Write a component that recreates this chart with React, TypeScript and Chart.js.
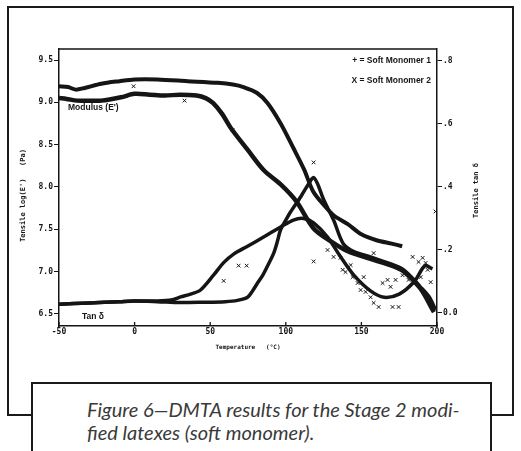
import React, { useEffect, useRef } from "react";
import { Chart, registerables } from "chart.js";
Chart.register(...registerables);

const INK = "#151515";
const MONO = '"DejaVu Sans Mono", "Liberation Mono", monospace';
const SANS = '"Liberation Sans", Arial, sans-serif';

// axes
const xTicks = [-50, 0, 50, 100, 150, 200];
const leftTicks = [6.5, 7.0, 7.5, 8.0, 8.5, 9.0, 9.5];
const rightTicks = [0, 0.2, 0.4, 0.6, 0.8];
const rightTickLabels = ["0.0", ".2", ".4", ".6", ".8"];

// Modulus E' (log Pa) - Soft Monomer 1 (+)
const mod1T = [-50, -44, -39, -33, -22, -10, 0, 15, 35, 55, 65, 72, 81, 88, 96.6, 105, 112, 118, 125, 132, 141, 150, 160, 170, 177];
const mod1V = [9.19, 9.18, 9.15, 9.17, 9.22, 9.25, 9.27, 9.27, 9.25, 9.23, 9.21, 9.18, 9.11, 8.99, 8.75, 8.46, 8.21, 7.95, 7.79, 7.66, 7.56, 7.44, 7.37, 7.33, 7.3];

// Modulus E' (log Pa) - Soft Monomer 2 (X)
const mod2T = [-50, -45, -38, -30, -22, -9, 0, 10, 20, 30, 41, 47, 52, 58, 63.5, 74.7, 85.3, 96.6, 107, 118.4, 129.6, 141, 156, 170, 178, 189, 198];
const mod2V = [9.05, 9.04, 9.02, 9.02, 9.02, 9.06, 9.1, 9.09, 9.08, 9.09, 9.08, 9.05, 8.99, 8.86, 8.7, 8.44, 8.2, 8.03, 7.83, 7.51, 7.36, 7.24, 7.15, 7.07, 7.0, 6.8, 6.52];

// tan delta - Soft Monomer 1 (+)
const tan1T = [-50, -30, -10, 0, 15, 30, 45, 60, 68, 74.7, 78, 81.3, 85, 88, 92, 94.6, 96.6, 100, 103, 110, 116.4, 118.4, 121, 125, 131.6, 138, 145, 156, 167, 178, 189, 195, 199];
const tan1Y = [0.028, 0.032, 0.036, 0.038, 0.036, 0.033, 0.034, 0.036, 0.04, 0.05, 0.07, 0.095, 0.122, 0.15, 0.19, 0.23, 0.265, 0.295, 0.32, 0.37, 0.42, 0.43, 0.41, 0.36, 0.295, 0.22, 0.195, 0.178, 0.16, 0.137, 0.083, 0.05, 0.01];

// tan delta - Soft Monomer 2 (X)
const tan2T = [-50, -30, -10, 0, 15, 25, 30.4, 37, 43.6, 52.2, 58.9, 65.5, 74.7, 85.3, 96.6, 105, 111.8, 118.4, 127.6, 136, 145, 156, 165, 175, 185, 192, 197];
const tan2Y = [0.028, 0.032, 0.036, 0.038, 0.038, 0.042, 0.051, 0.06, 0.073, 0.12, 0.16, 0.187, 0.212, 0.241, 0.273, 0.295, 0.3, 0.286, 0.241, 0.18, 0.12, 0.07, 0.05, 0.06, 0.1, 0.15, 0.14];

// scattered X points of tan delta (Soft Monomer 2) above 125 C
const tan2ScatT = [127.6, 131.6, 136.2, 137.6, 139.5, 142.9, 144.2, 147.5, 149.5, 151.5, 152.8, 156.1, 158.1, 158.1, 161.4, 164.0, 167.3, 169.3, 170.6, 172.6, 174.6, 177.2, 181.2, 183.9, 185.8, 187.8, 189.2, 190.5, 192.5, 193.8, 195.8];
const tan2ScatY = [0.2, 0.178, 0.175, 0.137, 0.13, 0.152, 0.114, 0.095, 0.073, 0.114, 0.067, 0.05, 0.032, 0.19, 0.019, 0.095, 0.105, 0.083, 0.019, 0.105, 0.019, 0.12, 0.105, 0.178, 0.095, 0.162, 0.114, 0.175, 0.159, 0.137, 0.098];

// stray X points (left axis)
const strayT = [-0.7, 33, 64.8, 118.4, 199, 58.9, 68.8, 74.1, 118.4];
const strayV = [9.19, 9.02, 8.67, 8.29, 7.71, 6.89, 7.07, 7.07, 7.12];

const xTitle = "Temperature   (\u00B0C)";
const leftTitle = "Tensile log(E')   (Pa)";
const rightTitle = "Tensile tan \u03B4";
const legend1 = "+ = Soft Monomer 1";
const legend2 = "X = Soft Monomer 2";
const modLabel = "Modulus (E')";
const tanLabel = "Tan \u03B4";
const captionLines = ["Figure 6\u2014DMTA results for the Stage 2 modi-", "fied latexes (soft monomer)."];

const zip = (xs: number[], ys: number[]) => xs.map((x, i) => ({ x, y: ys[i] }));

const CANVAS_W = 521;
const CANVAS_H = 380;

const decor = {
  id: "decor",
  afterDraw(chart: any) {
    const { ctx, chartArea: a, scales } = chart;
    ctx.save();
    ctx.strokeStyle = INK;
    ctx.lineWidth = 1.3;
    ctx.beginPath();
    ctx.moveTo(a.left, a.top);
    ctx.lineTo(a.right, a.top);
    xTicks.forEach((v) => {
      const px = scales.x.getPixelForValue(v);
      ctx.moveTo(px, a.bottom);
      ctx.lineTo(px, a.bottom - 4);
    });
    ctx.stroke();

    ctx.fillStyle = INK;
    ctx.textBaseline = "middle";
    ctx.font = `bold 6px ${MONO}`;
    ctx.textAlign = "center";
    ctx.fillText(xTitle, (a.left + a.right) / 2, a.bottom + 21);

    ctx.font = `bold 7px ${MONO}`;
    ctx.save();
    ctx.translate(a.left - 36, (a.top + a.bottom) / 2 + 8);
    ctx.rotate(-Math.PI / 2);
    ctx.fillText(leftTitle, 0, 0);
    ctx.restore();

    ctx.save();
    ctx.translate(a.right + 39, (a.top + a.bottom) / 2 + 3);
    ctx.rotate(-Math.PI / 2);
    ctx.fillText(rightTitle, 0, 0);
    ctx.restore();

    ctx.font = `bold 8.5px ${SANS}`;
    ctx.textAlign = "right";
    ctx.fillText(legend1, a.right - 6, a.top + 12);
    ctx.fillText(legend2, a.right - 6, a.top + 32);
    ctx.textAlign = "left";
    ctx.fillText(modLabel, a.left + 9, a.top + 59);
    ctx.fillText(tanLabel, a.left + 23, a.bottom - 9);
    ctx.restore();
  },
};

export default function App() {
  const ref = useRef<HTMLCanvasElement | null>(null);
  useEffect(() => {
    if (!ref.current) return;
    const lineDs = (label: string, data: any[], axis: string, w: number) => ({
      type: "line" as const,
      label,
      data,
      yAxisID: axis,
      borderColor: INK,
      backgroundColor: INK,
      borderWidth: w,
      pointRadius: 0,
      tension: 0.3,
      fill: false,
    });
    const xDs = (label: string, data: any[], axis: string) => ({
      type: "scatter" as const,
      label,
      data,
      yAxisID: axis,
      borderColor: INK,
      backgroundColor: INK,
      pointStyle: "crossRot" as const,
      pointRadius: 2.6,
      borderWidth: 1,
      showLine: false,
    });
    const chart = new Chart(ref.current, {
      type: "line",
      data: {
        datasets: [
          lineDs("Modulus SM1", zip(mod1T, mod1V), "y", 4),
          lineDs("Modulus SM2", zip(mod2T, mod2V), "y", 4.5),
          lineDs("tan SM1", zip(tan1T, tan1Y), "y2", 3.5),
          lineDs("tan SM2", zip(tan2T, tan2Y), "y2", 3.5),
          xDs("tan SM2 scatter", zip(tan2ScatT, tan2ScatY), "y2"),
          xDs("stray SM2", zip(strayT, strayV), "y"),
        ] as any,
      },
      options: {
        animation: false,
        responsive: false,
        maintainAspectRatio: false,
        layout: { padding: { top: 49, left: 0, right: 0, bottom: 0 } },
        plugins: { legend: { display: false }, tooltip: { enabled: false } },
        scales: {
          x: {
            type: "linear",
            min: -50,
            max: 200,
            afterFit: (s: any) => { s.height = CANVAS_H - 326; },
            afterBuildTicks: (s: any) => { s.ticks = xTicks.map((v) => ({ value: v })); },
            ticks: { color: INK, font: { family: MONO, size: 8, weight: "bold" }, padding: 1, maxRotation: 0 },
            grid: { display: false, drawTicks: false, tickLength: 0 },
            border: { display: true, color: INK, width: 1.5 },
          },
          y: {
            type: "linear",
            position: "left",
            min: 6.357,
            max: 9.63,
            afterFit: (s: any) => { s.width = 59; },
            afterBuildTicks: (s: any) => { s.ticks = leftTicks.map((v) => ({ value: v })); },
            ticks: { color: INK, font: { family: MONO, size: 8, weight: "bold" }, padding: 1, callback: (v: any) => Number(v).toFixed(1) },
            grid: { display: true, drawOnChartArea: false, tickLength: 5, color: INK, lineWidth: 1 },
            border: { display: true, color: INK, width: 1.5 },
          },
          y2: {
            type: "linear",
            position: "right",
            min: -0.0413,
            max: 0.838,
            afterFit: (s: any) => { s.width = CANVAS_W - 437; },
            afterBuildTicks: (s: any) => { s.ticks = rightTicks.map((v) => ({ value: v })); },
            ticks: {
              color: INK,
              font: { family: MONO, size: 8, weight: "bold" },
              padding: 1,
              callback: (v: any) => rightTickLabels[rightTicks.findIndex((t) => Math.abs(t - Number(v)) < 1e-6)] ?? "",
            },
            grid: { display: true, drawOnChartArea: false, tickLength: 5, color: INK, lineWidth: 1 },
            border: { display: true, color: INK, width: 1.5 },
          },
        },
      } as any,
      plugins: [decor],
    });
    return () => chart.destroy();
  }, []);

  return (
    <div style={{ position: "absolute", left: 0, top: 0, width: 521, height: 451, background: "#fff", overflow: "hidden" }}>
      <div style={{ position: "absolute", left: 7, top: 6, width: 507, height: 410, border: "2px solid #1a1a1a", boxSizing: "border-box" }} />
      <canvas ref={ref} width={CANVAS_W} height={CANVAS_H} style={{ position: "absolute", left: 0, top: 0, width: CANVAS_W, height: CANVAS_H }} />
      <div
        style={{
          position: "absolute",
          left: 31,
          top: 382,
          width: 461,
          height: 90,
          border: "2.5px solid #1a1a1a",
          boxSizing: "border-box",
          background: "#fff",
          paddingLeft: 54,
          paddingTop: 14,
          fontFamily: 'Lato, "Open Sans", sans-serif',
          fontStyle: "italic",
          fontWeight: 400,
          fontSize: 20,
          lineHeight: "23px",
          color: "#3a3a3a",
          whiteSpace: "nowrap",
        }}
      >
        {captionLines.map((l, i) => (
          <div key={i}>{l}</div>
        ))}
      </div>
    </div>
  );
}
